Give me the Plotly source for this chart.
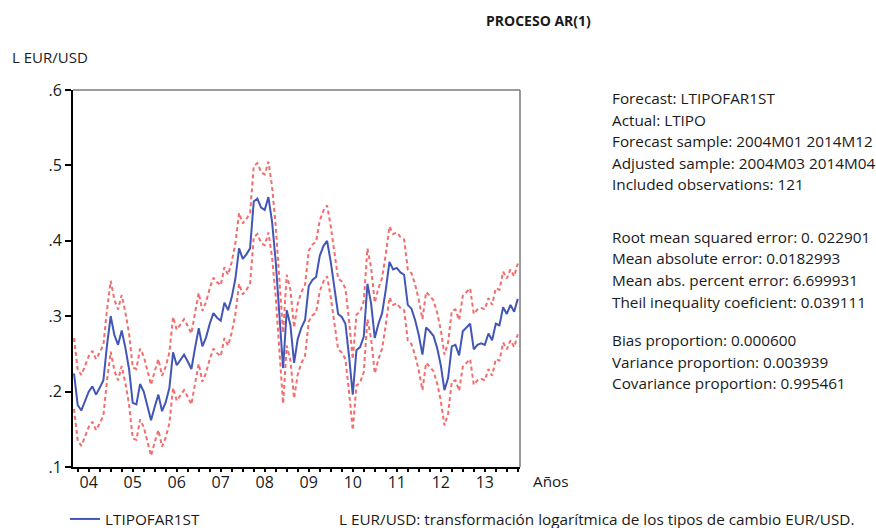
import plotly.graph_objects as go

# ---- text ----
title = "PROCESO AR(1)"
y_label = "L EUR/USD"
x_label = "Años"
series_name = "LTIPOFAR1ST"
note = "L EUR/USD: transformación logarítmica de los tipos de cambio EUR/USD."

# ---- data: monthly forecast of LTIPO, 2004M03 .. 2014M04 ----
start_year, start_month = 2004, 3
forecast = [
    # 2004 (M03-M12)
    0.224, 0.182, 0.175, 0.188, 0.200, 0.207, 0.196, 0.205, 0.215, 0.262,
    # 2005
    0.300, 0.275, 0.262, 0.281, 0.258, 0.230, 0.185, 0.183, 0.210, 0.200, 0.180, 0.162,
    # 2006
    0.180, 0.196, 0.174, 0.186, 0.205, 0.252, 0.235, 0.242, 0.249, 0.240, 0.230, 0.258,
    # 2007
    0.284, 0.260, 0.272, 0.290, 0.304, 0.298, 0.294, 0.318, 0.308, 0.325, 0.350, 0.390,
    # 2008
    0.376, 0.382, 0.390, 0.452, 0.456, 0.444, 0.441, 0.458, 0.425, 0.372, 0.305, 0.231,
    # 2009
    0.308, 0.288, 0.238, 0.270, 0.285, 0.295, 0.340, 0.348, 0.352, 0.380, 0.393, 0.400,
    # 2010
    0.372, 0.335, 0.303, 0.299, 0.290, 0.246, 0.196, 0.255, 0.259, 0.273, 0.343, 0.317,
    # 2011
    0.271, 0.290, 0.304, 0.335, 0.372, 0.362, 0.364, 0.358, 0.355, 0.315, 0.310, 0.295,
    # 2012
    0.275, 0.249, 0.285, 0.280, 0.274, 0.258, 0.235, 0.202, 0.218, 0.260, 0.262, 0.248,
    # 2013
    0.280, 0.285, 0.290, 0.256, 0.262, 0.264, 0.262, 0.277, 0.268, 0.290, 0.288, 0.312,
    # 2014 (M01-M04)
    0.303, 0.315, 0.306, 0.323,
]
forecast_se = 0.0235  # standard error of the forecast (band = ± 2 S.E.)

year_labels = ["04", "05", "06", "07", "08", "09", "10", "11", "12", "13"]
y_tick_vals = [0.1, 0.2, 0.3, 0.4, 0.5, 0.6]
y_tick_text = [".1", ".2", ".3", ".4", ".5", ".6"]

stats_block = [
    "Forecast: LTIPOFAR1ST",
    "Actual: LTIPO",
    "Forecast sample: 2004M01 2014M12",
    "Adjusted sample: 2004M03 2014M04",
    "Included observations: 121",
    "Root mean squared error: 0. 022901",
    "Mean absolute error: 0.0182993",
    "Mean abs. percent error: 6.699931",
    "Theil inequality coeficient: 0.039111",
    "Bias proportion: 0.000600",
    "Variance proportion: 0.003939",
    "Covariance proportion: 0.995461",
]
# vertical pixel centre of each line of the statistics block
stats_y_px = [98, 120, 141, 163, 184, 237, 258, 280, 302, 340, 362, 383]

# ---- derived series ----
t = [start_year + (start_month - 1 + i) / 12 for i in range(len(forecast))]
upper = [v + 2 * forecast_se for v in forecast]
lower = [v - 2 * forecast_se for v in forecast]

# ---- geometry ----
W, H = 876, 528
L, R, T, B = 73, 356, 90, 61
plot_h = H - T - B
x_range = [2004.143, 2014.30]

FONT = "Open Sans"
FS = 15.3
TXT = "#1a1a1a"
BLUE = "#4256b8"
RED = "rgba(240,84,84,0.85)"


def py(px):
    """pixel row -> paper y"""
    return (H - B - px) / plot_h


def pxx(px):
    """pixel column -> paper x"""
    return (px - L) / (W - L - R)


fig = go.Figure()
fig.add_trace(go.Scatter(
    x=t, y=upper, mode="lines", showlegend=False, hoverinfo="skip",
    line=dict(color=RED, width=2, dash="4px,3px"), xaxis="x2",
))
fig.add_trace(go.Scatter(
    x=t, y=lower, mode="lines", showlegend=False, hoverinfo="skip",
    line=dict(color=RED, width=2, dash="4px,3px"),
))
fig.add_trace(go.Scatter(
    x=t, y=forecast, mode="lines", name=series_name,
    line=dict(color=BLUE, width=2),
))

year_starts = list(range(2005, 2015))
quarters = [y + q / 4 for y in range(2004, 2015) for q in range(4)
            if x_range[0] <= y + q / 4 <= x_range[1]]
label_pos = [2004.5 + k for k in range(len(year_labels))]

fig.update_layout(
    width=W, height=H,
    margin=dict(l=L, r=R, t=T, b=B, pad=0, autoexpand=False),
    paper_bgcolor="white", plot_bgcolor="white",
    font=dict(family=FONT, size=FS, color=TXT),
    showlegend=True,
    legend=dict(
        orientation="h", x=pxx(65), xanchor="left", y=py(519), yanchor="middle",
        font=dict(size=FS, color=TXT), bgcolor="rgba(0,0,0,0)",
        itemwidth=30, tracegroupgap=0,
    ),
    xaxis=dict(
        range=x_range, showgrid=False, zeroline=False,
        showline=True, linecolor="black", linewidth=2,
        tickmode="array", tickvals=year_starts, ticktext=[""] * len(year_starts),
        ticks="outside", ticklen=6, tickwidth=2, tickcolor="black",
        minor=dict(tickmode="array", tickvals=quarters, ticks="outside",
                   ticklen=3, tickwidth=2, tickcolor="black", showgrid=False),
        fixedrange=True,
    ),
    xaxis2=dict(
        range=x_range, overlaying="x", anchor="y", side="bottom",
        showgrid=False, zeroline=False, showline=False,
        tickmode="array", tickvals=label_pos, ticktext=year_labels,
        ticks="outside", ticklen=1, tickcolor="rgba(0,0,0,0)",
        tickfont=dict(size=16, color=TXT), fixedrange=True,
    ),
    yaxis=dict(
        range=[0.1, 0.6], showgrid=False, zeroline=False,
        showline=True, linecolor="black", linewidth=2,
        tickmode="array", tickvals=y_tick_vals, ticktext=y_tick_text,
        ticks="outside", ticklen=6, tickwidth=2, tickcolor="black",
        tickfont=dict(size=16, color=TXT), fixedrange=True,
    ),
    shapes=[
        dict(type="line", xref="paper", yref="paper", x0=0, x1=1, y0=1, y1=1,
             line=dict(color="#7a7a7a", width=1.5)),
        dict(type="line", xref="paper", yref="paper", x0=1, x1=1, y0=0, y1=1,
             line=dict(color="#7a7a7a", width=1.5)),
    ],
)

ann = [
    dict(text="<b>" + title + "</b>", x=pxx(538), y=py(21), xanchor="center",
         yanchor="middle", font=dict(size=14)),
    dict(text=y_label, x=pxx(10), y=py(57), xanchor="left", yanchor="middle",
         font=dict(size=15)),
    dict(text=x_label, x=pxx(531), y=py(481), xanchor="left", yanchor="middle",
         font=dict(size=FS)),
    dict(text=note, x=pxx(337), y=py(519), xanchor="left", yanchor="middle",
         font=dict(size=FS)),
]
for line, ypx in zip(stats_block, stats_y_px):
    ann.append(dict(text=line, x=pxx(610), y=py(ypx), xanchor="left",
                    yanchor="middle", font=dict(size=FS)))
for a in ann:
    a.update(xref="paper", yref="paper", showarrow=False)
fig.update_layout(annotations=ann)

fig.write_html("out.html")
